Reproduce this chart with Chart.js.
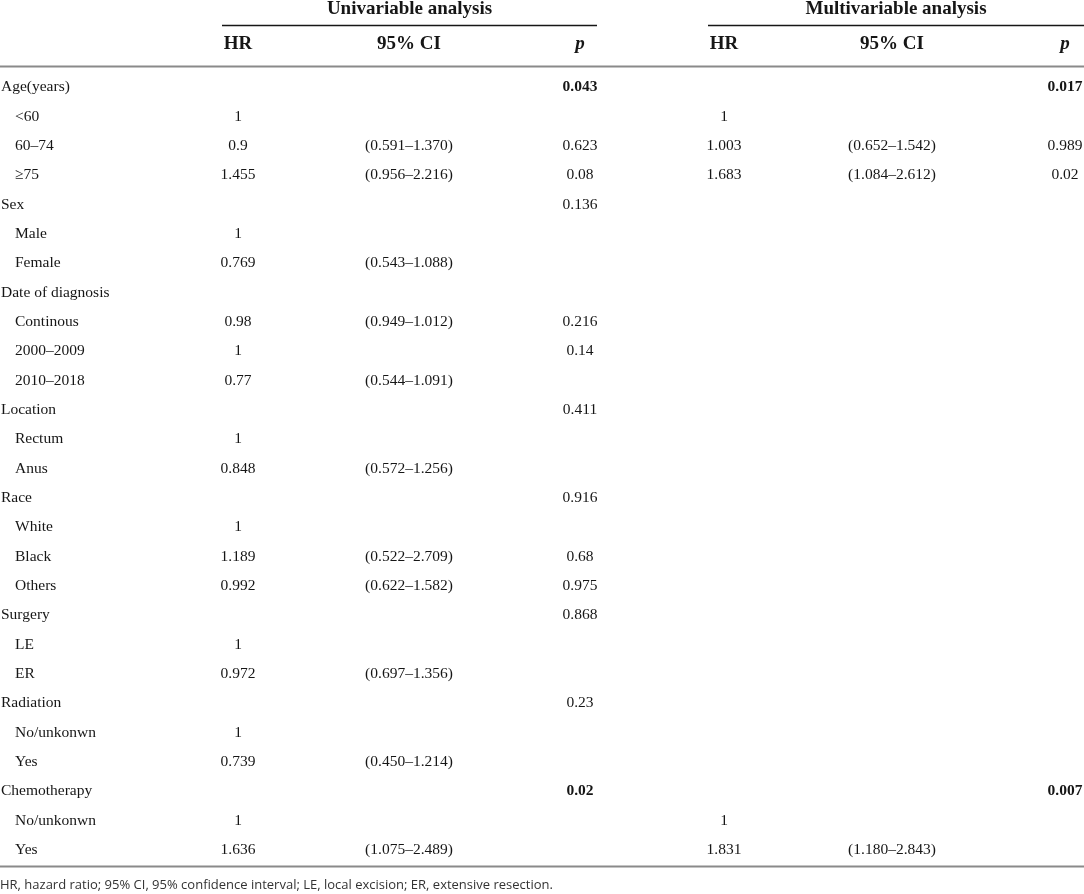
<!DOCTYPE html>
<html>
<head>
<meta charset="utf-8">
<title>Cox regression table</title>
<script src="https://cdn.jsdelivr.net/npm/chart.js@4.4.1/dist/chart.umd.min.js"></script>
<style>
  html, body { margin: 0; padding: 0; background: #fff; }
  #table { display: block; }
</style>
</head>
<body>
<canvas id="table" width="1084" height="894"></canvas>
<script>
// row labels, in table order
const rowLabels = [
  'Age(years)', '<60', '60–74', '≥75',
  'Sex', 'Male', 'Female',
  'Date of diagnosis', 'Continous', '2000–2009', '2010–2018',
  'Location', 'Rectum', 'Anus',
  'Race', 'White', 'Black', 'Others',
  'Surgery', 'LE', 'ER',
  'Radiation', 'No/unkonwn', 'Yes',
  'Chemotherapy', 'No/unkonwn', 'Yes',
];
// variable name rows (not indented)
const groupRows = [0, 4, 7, 11, 14, 18, 21, 24];

const uniHR = ['', '1', '0.9', '1.455', '', '1', '0.769', '', '0.98', '1', '0.77', '', '1', '0.848',
  '', '1', '1.189', '0.992', '', '1', '0.972', '', '1', '0.739', '', '1', '1.636'];
const uniCI = ['', '', '(0.591–1.370)', '(0.956–2.216)', '', '', '(0.543–1.088)', '', '(0.949–1.012)', '',
  '(0.544–1.091)', '', '', '(0.572–1.256)', '', '', '(0.522–2.709)', '(0.622–1.582)', '', '',
  '(0.697–1.356)', '', '', '(0.450–1.214)', '', '', '(1.075–2.489)'];
const uniP = ['0.043', '', '0.623', '0.08', '0.136', '', '', '', '0.216', '0.14', '', '0.411', '', '',
  '0.916', '', '0.68', '0.975', '0.868', '', '', '0.23', '', '', '0.02', '', ''];

const multiHR = ['', '1', '1.003', '1.683', '', '', '', '', '', '', '', '', '', '',
  '', '', '', '', '', '', '', '', '', '', '', '1', '1.831'];
const multiCI = ['', '', '(0.652–1.542)', '(1.084–2.612)', '', '', '', '', '', '', '', '', '', '',
  '', '', '', '', '', '', '', '', '', '', '', '', '(1.180–2.843)'];
const multiP = ['0.017', '', '0.989', '0.02', '', '', '', '', '', '', '', '', '', '',
  '', '', '', '', '', '', '', '', '', '', '0.007', '', ''];

// p values printed in bold
const boldPRows = [0, 24];

const groupTitles = ['Univariable analysis', 'Multivariable analysis'];
const colTitles = ['HR', '95% CI', 'p'];
const footnote = 'HR, hazard ratio; 95% CI, 95% confidence interval; LE, local excision; ER, extensive resection.';

// layout (x in table units, same as pixels here)
const W = 1084;
const colX = { uniHR: 238, uniCI: 409, uniP: 580, multiHR: 724, multiCI: 892, multiP: 1065 };
const spans = [[222, 597], [708, 1084]];
const serif = '"Liberation Serif", "Times New Roman", serif';
const ink = '#161616';

const tablePlugin = {
  id: 'tableText',
  afterDraw(chart) {
    const { ctx, scales: { x, y }, chartArea } = chart;
    ctx.save();
    ctx.fillStyle = ink;
    ctx.textBaseline = 'middle';

    // two-level header
    ctx.font = 'bold 19px ' + serif;
    ctx.textAlign = 'center';
    spans.forEach((s, i) => {
      const x0 = x.getPixelForValue(s[0]);
      const x1 = x.getPixelForValue(s[1]);
      ctx.fillText(groupTitles[i], (x0 + x1) / 2, 9);
      ctx.strokeStyle = ink;
      ctx.lineWidth = 1.5;
      ctx.beginPath();
      ctx.moveTo(x0, 25.5);
      ctx.lineTo(x1, 25.5);
      ctx.stroke();
    });
    const headCols = [
      [colX.uniHR, colX.uniCI, colX.uniP],
      [colX.multiHR, colX.multiCI, colX.multiP],
    ];
    headCols.forEach(cols => {
      cols.forEach((cx, j) => {
        ctx.font = (j === 2 ? 'italic bold ' : 'bold ') + '19px ' + serif;
        ctx.fillText(colTitles[j], x.getPixelForValue(cx), 44);
      });
    });

    // rules
    ctx.strokeStyle = '#8a8a8a';
    ctx.lineWidth = 2;
    ctx.beginPath();
    ctx.moveTo(0, chartArea.top - 6);
    ctx.lineTo(W, chartArea.top - 6);
    ctx.moveTo(0, chartArea.bottom + 2);
    ctx.lineTo(W, chartArea.bottom + 2);
    ctx.stroke();

    // body rows
    rowLabels.forEach((label, i) => {
      const py = y.getPixelForValue(i);
      ctx.font = '15.5px ' + serif;
      ctx.textAlign = 'left';
      ctx.fillText(label, groupRows.includes(i) ? 1 : 15, py);

      ctx.textAlign = 'center';
      ctx.fillText(uniHR[i], x.getPixelForValue(colX.uniHR), py);
      ctx.fillText(uniCI[i], x.getPixelForValue(colX.uniCI), py);
      ctx.fillText(multiHR[i], x.getPixelForValue(colX.multiHR), py);
      ctx.fillText(multiCI[i], x.getPixelForValue(colX.multiCI), py);

      ctx.font = (boldPRows.includes(i) ? 'bold ' : '') + '15.5px ' + serif;
      ctx.fillText(uniP[i], x.getPixelForValue(colX.uniP), py);
      ctx.fillText(multiP[i], x.getPixelForValue(colX.multiP), py);
    });

    // footnote
    ctx.font = '13px "Open Sans", "Noto Sans", sans-serif';
    ctx.fillStyle = '#333';
    ctx.textAlign = 'left';
    ctx.fillText(footnote, 0, 885);
    ctx.restore();
  },
};

new Chart(document.getElementById('table'), {
  type: 'scatter',
  data: { labels: rowLabels, datasets: [] },
  options: {
    responsive: false,
    animation: false,
    events: [],
    layout: { padding: { top: 72.5, bottom: 29.5, left: 0, right: 0 } },
    scales: {
      x: { type: 'linear', min: 0, max: W, display: false },
      y: {
        type: 'category',
        labels: rowLabels.map((l, i) => i),
        offset: true,
        display: false,
      },
    },
    plugins: { legend: { display: false }, tooltip: { enabled: false } },
  },
  plugins: [tablePlugin],
});
</script>
</body>
</html>
